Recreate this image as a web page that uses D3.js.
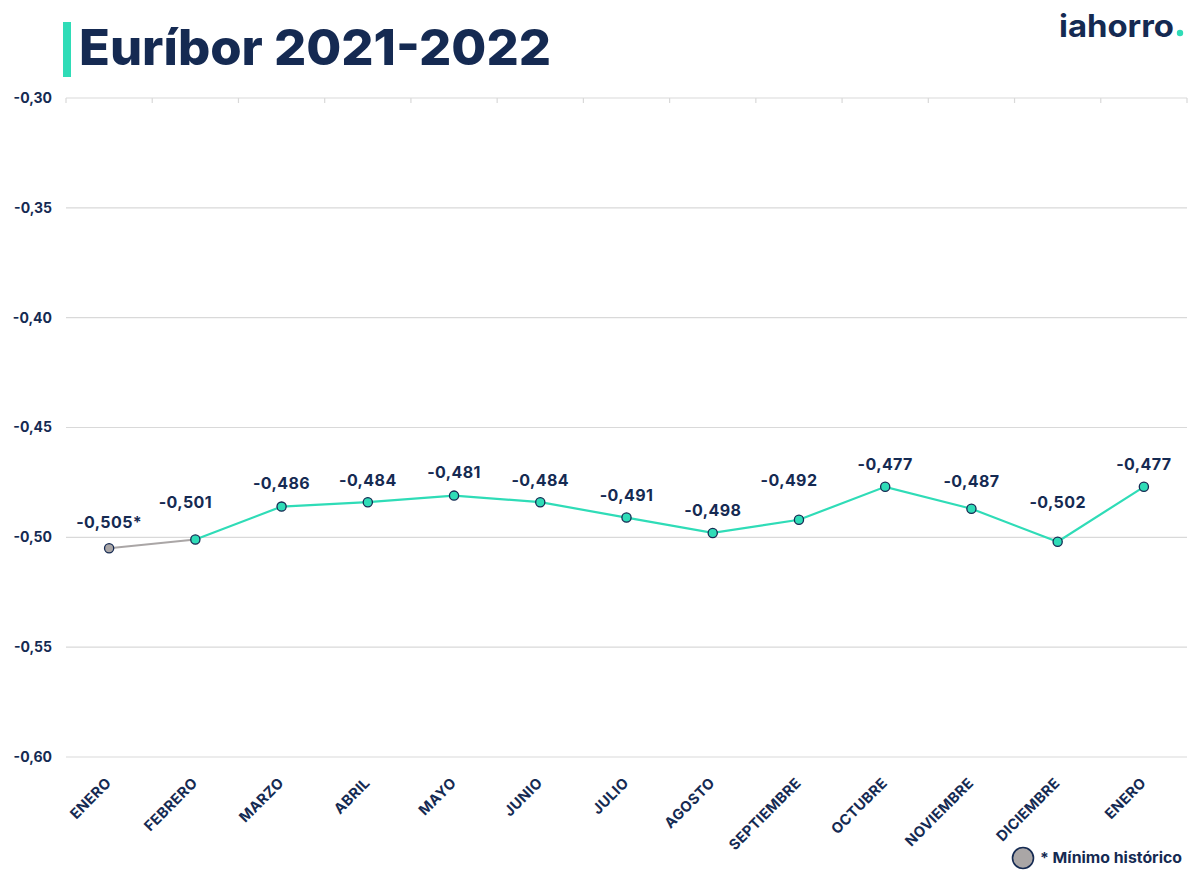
<!DOCTYPE html>
<html>
<head>
<meta charset="utf-8">
<script src="https://cdn.jsdelivr.net/npm/d3@7"></script>
<style>
  body { margin: 0; background: #fff; }
  svg { display: block; }
  text { font-family: Inter, "Noto Sans", sans-serif; fill: #152a52; }
</style>
</head>
<body>
<svg id="chart" width="1200" height="884"></svg>
<script>
// data
var months = ["ENERO", "FEBRERO", "MARZO", "ABRIL", "MAYO", "JUNIO", "JULIO",
              "AGOSTO", "SEPTIEMBRE", "OCTUBRE", "NOVIEMBRE", "DICIEMBRE", "ENERO"];
var euribor = [-0.505, -0.501, -0.486, -0.484, -0.481, -0.484, -0.491,
               -0.498, -0.492, -0.477, -0.487, -0.502, -0.477];
var valueLabels = ["-0,505*", "-0,501", "-0,486", "-0,484", "-0,481", "-0,484", "-0,491",
                   "-0,498", "-0,492", "-0,477", "-0,487", "-0,502", "-0,477"];
var yTicks = [-0.30, -0.35, -0.40, -0.45, -0.50, -0.55, -0.60];
var minIndex = 0; // minimo historico

// label nudges so labels don't sit on the line (layout, not data)
var labelLift = [26, 37, 23, 22, 23, 22, 22, 23, 39, 22, 27, 39, 22];
var labelShift = [0, -10, 0, 0, 0, 0, 0, 0, -10, 0, 0, 0, 0];

var navy = "#152a52", teal = "#2fdcb7", grey = "#aaa6a6";
var svg = d3.select("#chart");

var x = d3.scaleBand()
  .domain(d3.range(months.length))
  .range([66, 1187])
  .padding(0);
var y = d3.scaleLinear().domain([-0.60, -0.30]).range([757, 98]);
var cx = function(i) { return x(i) + x.bandwidth() / 2; };

// title
svg.append("rect").attr("x", 63).attr("y", 22).attr("width", 8).attr("height", 55)
  .attr("fill", teal);
svg.append("text").attr("x", 79).attr("y", 65)
  .attr("textLength", 472).attr("lengthAdjust", "spacingAndGlyphs")
  .style("font-size", "50px").style("font-weight", 800)
  .text("Euríbor 2021-2022");

// logo
svg.append("text").attr("x", 1059).attr("y", 37)
  .attr("textLength", 115).attr("lengthAdjust", "spacingAndGlyphs")
  .style("font-size", "31px").style("font-weight", 700)
  .text("iahorro");
svg.append("circle").attr("cx", 1180).attr("cy", 33).attr("r", 3.2).attr("fill", teal);

// grid
var grid = svg.append("g");
grid.selectAll("line").data(yTicks).enter().append("line")
  .attr("x1", 66).attr("x2", 1187)
  .attr("y1", function(d) { return y(d); }).attr("y2", function(d) { return y(d); })
  .attr("stroke", "#d9d9d9").attr("stroke-width", 1.2);

// small category ticks hanging from top line
var edges = d3.range(months.length + 1).map(function(i) {
  return i < months.length ? x(i) : x(i - 1) + x.bandwidth();
});
grid.selectAll("line.tk").data(edges).enter().append("line").attr("class", "tk")
  .attr("x1", function(d) { return d; }).attr("x2", function(d) { return d; })
  .attr("y1", y(-0.30)).attr("y2", y(-0.30) + 5)
  .attr("stroke", "#d9d9d9").attr("stroke-width", 1.2);

// y labels
svg.selectAll("text.ylab").data(yTicks).enter().append("text").attr("class", "ylab")
  .attr("x", 52).attr("y", function(d) { return y(d); }).attr("dy", "0.35em")
  .attr("text-anchor", "end")
  .style("font-size", "14px").style("font-weight", 700)
  .text(function(d) { return d3.format(".2f")(d).replace("\u2212", "-").replace(".", ","); });

// x labels
svg.selectAll("text.xlab").data(months).enter().append("text").attr("class", "xlab")
  .attr("text-anchor", "end")
  .attr("transform", function(d, i) { return "translate(" + (cx(i) + 3) + ",784) rotate(-45)"; })
  .style("font-size", "14.5px").style("font-weight", 700).style("letter-spacing", "0.3px")
  .text(function(d) { return d; });

// lines
var line = d3.line().x(function(d) { return cx(d.i); }).y(function(d) { return y(d.v); });
var pts = euribor.map(function(v, i) { return { i: i, v: v }; });
svg.append("path").datum(pts.slice(minIndex, minIndex + 2))
  .attr("d", line).attr("fill", "none").attr("stroke", grey).attr("stroke-width", 2);
svg.append("path").datum(pts.slice(minIndex + 1))
  .attr("d", line).attr("fill", "none").attr("stroke", teal).attr("stroke-width", 2.2);

// points
svg.selectAll("circle.pt").data(pts).enter().append("circle").attr("class", "pt")
  .attr("cx", function(d) { return cx(d.i); }).attr("cy", function(d) { return y(d.v); })
  .attr("r", 4.6)
  .attr("fill", function(d) { return d.i === minIndex ? grey : teal; })
  .attr("stroke", navy).attr("stroke-width", 1.3);

// value labels
svg.selectAll("text.vlab").data(pts).enter().append("text").attr("class", "vlab")
  .attr("x", function(d) { return cx(d.i) + labelShift[d.i]; })
  .attr("y", function(d) { return y(d.v) - labelLift[d.i]; })
  .attr("dy", "0.35em").attr("text-anchor", "middle")
  .style("font-size", "16px").style("font-weight", 700).style("letter-spacing", "0.4px")
  .text(function(d) { return valueLabels[d.i]; });

// legend
svg.append("circle").attr("cx", 1023).attr("cy", 858).attr("r", 10.5)
  .attr("fill", grey).attr("stroke", navy).attr("stroke-width", 1.6);
svg.append("text").attr("x", 1040).attr("y", 863)
  .attr("textLength", 142).attr("lengthAdjust", "spacingAndGlyphs")
  .style("font-size", "15px").style("font-weight", 700)
  .text("* Mínimo histórico");
</script>
</body>
</html>
